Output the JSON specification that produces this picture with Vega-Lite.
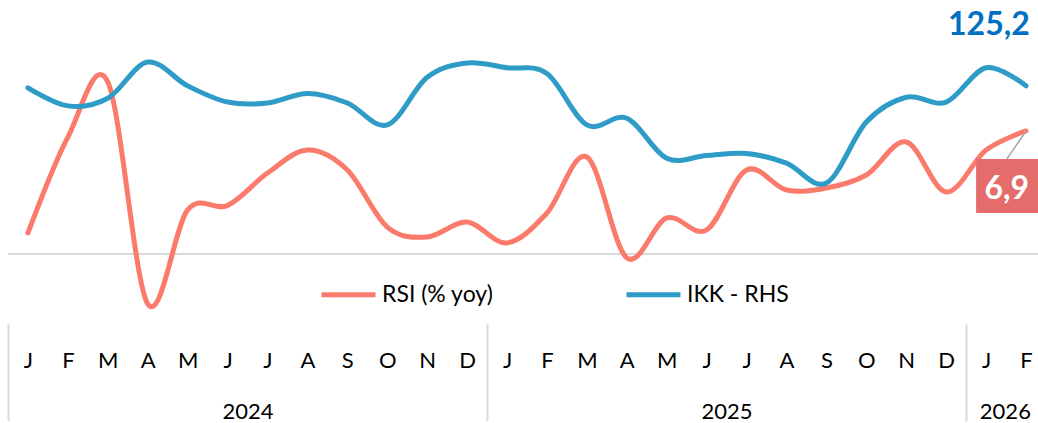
{
  "$schema": "https://vega.github.io/schema/vega-lite/v6.json",
  "width": 1030,
  "height": 324,
  "autosize": {"type": "none"},
  "padding": {"left": 8, "top": 0, "right": 0, "bottom": 99},
  "background": "white",
  "config": {"view": {"stroke": null}, "font": "Lato"},
  "datasets": {
    "main": [
      {"i": 0, "rsi": 1.18, "ikk": 125.0},
      {"i": 1, "rsi": 6.56, "ikk": 123.1},
      {"i": 2, "rsi": 9.65, "ikk": 123.9},
      {"i": 3, "rsi": -2.8, "ikk": 127.7},
      {"i": 4, "rsi": 2.47, "ikk": 125.2},
      {"i": 5, "rsi": 2.72, "ikk": 123.5},
      {"i": 6, "rsi": 4.54, "ikk": 123.4},
      {"i": 7, "rsi": 5.83, "ikk": 124.4},
      {"i": 8, "rsi": 4.71, "ikk": 123.4},
      {"i": 9, "rsi": 1.51, "ikk": 121.1},
      {"i": 10, "rsi": 0.95, "ikk": 126.1},
      {"i": 11, "rsi": 1.79, "ikk": 127.6},
      {"i": 12, "rsi": 0.62, "ikk": 127.1},
      {"i": 13, "rsi": 2.3, "ikk": 126.5},
      {"i": 14, "rsi": 5.44, "ikk": 121.1},
      {"i": 15, "rsi": -0.22, "ikk": 121.8},
      {"i": 16, "rsi": 2.02, "ikk": 117.6},
      {"i": 17, "rsi": 1.35, "ikk": 117.9},
      {"i": 18, "rsi": 4.71, "ikk": 118.1},
      {"i": 19, "rsi": 3.59, "ikk": 117.1},
      {"i": 20, "rsi": 3.7, "ikk": 115.0},
      {"i": 21, "rsi": 4.43, "ikk": 121.4},
      {"i": 22, "rsi": 6.28, "ikk": 124.0},
      {"i": 23, "rsi": 3.48, "ikk": 123.5},
      {"i": 24, "rsi": 5.83, "ikk": 127.1},
      {"i": 25, "rsi": 6.9, "ikk": 125.2}
    ],
    "zero": [{"v": 0}],
    "box": [{"i": 23.75, "i2": 25.3, "v": 5.33, "v2": 2.3}],
    "leader": [{"i": 25, "i2": 24.52, "v": 6.9, "v2": 5.33}],
    "lbl69": [{"i": 24.52, "v": 3.67, "t": "6,9"}],
    "lbl125": [{"i": 24.07, "v": 131.63, "t": "125,2"}]
  },
  "layer": [
    {
      "data": {"name": "zero"},
      "mark": {"type": "rule", "color": "#D9D9D9", "strokeWidth": 2},
      "encoding": {
        "y": {"field": "v", "type": "quantitative", "scale": {"domain": [-3.93, 14.25], "nice": false, "zero": false}, "axis": null}
      }
    },
    {
      "data": {"name": "main"},
      "mark": {"type": "line", "interpolate": "cardinal", "strokeWidth": 5, "strokeCap": "round", "strokeJoin": "round"},
      "encoding": {
        "x": {"field": "i", "type": "quantitative", "scale": {"domain": [-0.5, 25.3], "nice": false, "zero": false},
          "axis": {"orient": "bottom", "title": null, "values": [0,1,2,3,4,5,6,7,8,9,10,11,12,13,14,15,16,17,18,19,20,21,22,23,24,25],
            "labelExpr": "['J','F','M','A','M','J','J','A','S','O','N','D'][datum.value % 12]",
            "ticks": false, "domain": false, "grid": false, "labelPadding": 43, "labelBaseline": "alphabetic",
            "labelFontSize": 22, "labelFont": "Lato", "labelColor": "#000000", "labelFlush": false, "labelOverlap": false}},
        "y": {"field": "rsi", "type": "quantitative", "scale": {"domain": [-3.93, 14.25], "nice": false, "zero": false}, "axis": null},
        "color": {"datum": "RSI (% yoy)", "type": "nominal",
          "scale": {"domain": ["RSI (% yoy)", "IKK - RHS"], "range": ["#FA7B6B", "#2E9CC6"]},
          "legend": {"orient": "none", "legendX": 311, "legendY": 265, "direction": "horizontal", "title": null,
            "symbolType": "stroke", "symbolSize": 2916, "symbolStrokeWidth": 5, "labelFontSize": 23, "labelFont": "Lato",
            "labelColor": "#000000", "columnPadding": 122, "labelOffset": 4, "padding": 0, "labelLimit": 300}}
      }
    },
    {
      "data": {"name": "main"},
      "mark": {"type": "line", "interpolate": "cardinal", "strokeWidth": 5, "strokeCap": "round", "strokeJoin": "round"},
      "encoding": {
        "x": {"field": "i", "type": "quantitative", "scale": {"domain": [-0.5, 25.3], "nice": false, "zero": false},
          "axis": {"orient": "bottom", "title": null, "values": [-0.5, 11.5, 23.5], "labels": false, "domain": false, "grid": false,
            "ticks": true, "tickSize": 97, "tickColor": "#D9D9D9", "tickWidth": 2}},
        "y": {"field": "ikk", "type": "quantitative", "scale": {"domain": [100.21, 134.21], "nice": false, "zero": false}, "axis": null},
        "color": {"datum": "IKK - RHS", "type": "nominal"}
      }
    },
    {
      "data": {"name": "leader"},
      "mark": {"type": "rule", "color": "#A6A6A6", "strokeWidth": 1.5},
      "encoding": {
        "x": {"field": "i", "type": "quantitative", "scale": {"domain": [-0.5, 25.3], "nice": false, "zero": false}, "axis": null},
        "x2": {"field": "i2"},
        "y": {"field": "v", "type": "quantitative", "scale": {"domain": [-3.93, 14.25], "nice": false, "zero": false}, "axis": null},
        "y2": {"field": "v2"}
      }
    },
    {
      "data": {"name": "box"},
      "mark": {"type": "rect", "color": "#E46C6A"},
      "encoding": {
        "x": {"field": "i", "type": "quantitative", "scale": {"domain": [-0.5, 25.3], "nice": false, "zero": false}, "axis": null},
        "x2": {"field": "i2"},
        "y": {"field": "v", "type": "quantitative", "scale": {"domain": [-3.93, 14.25], "nice": false, "zero": false}, "axis": null},
        "y2": {"field": "v2"}
      }
    },
    {
      "data": {"name": "lbl69"},
      "mark": {"type": "text", "color": "#FFFFFF", "fontWeight": "bold", "fontSize": 32, "font": "Lato", "align": "center", "baseline": "middle"},
      "encoding": {
        "x": {"field": "i", "type": "quantitative", "scale": {"domain": [-0.5, 25.3], "nice": false, "zero": false}, "axis": null},
        "y": {"field": "v", "type": "quantitative", "scale": {"domain": [-3.93, 14.25], "nice": false, "zero": false}, "axis": null},
        "text": {"field": "t"}
      }
    },
    {
      "data": {"name": "lbl125"},
      "mark": {"type": "text", "color": "#0070C0", "fontWeight": "bold", "fontSize": 32, "font": "Lato", "align": "center", "baseline": "middle"},
      "encoding": {
        "x": {"field": "i", "type": "quantitative", "scale": {"domain": [-0.5, 25.3], "nice": false, "zero": false},
          "axis": {"orient": "bottom", "title": null, "values": [5.5, 17.5, 24.47],
            "labelExpr": "datum.value < 11 ? '2024' : (datum.value < 23 ? '2025' : '2026')",
            "ticks": false, "domain": false, "grid": false, "labelPadding": 94, "labelBaseline": "alphabetic",
            "labelFontSize": 22, "labelFont": "Lato", "labelColor": "#000000", "labelFlush": false, "labelOverlap": false}},
        "y": {"field": "v", "type": "quantitative", "scale": {"domain": [100.21, 134.21], "nice": false, "zero": false}, "axis": null},
        "text": {"field": "t"}
      }
    }
  ],
  "resolve": {"scale": {"y": "independent"}, "axis": {"x": "independent", "y": "independent"}}
}
